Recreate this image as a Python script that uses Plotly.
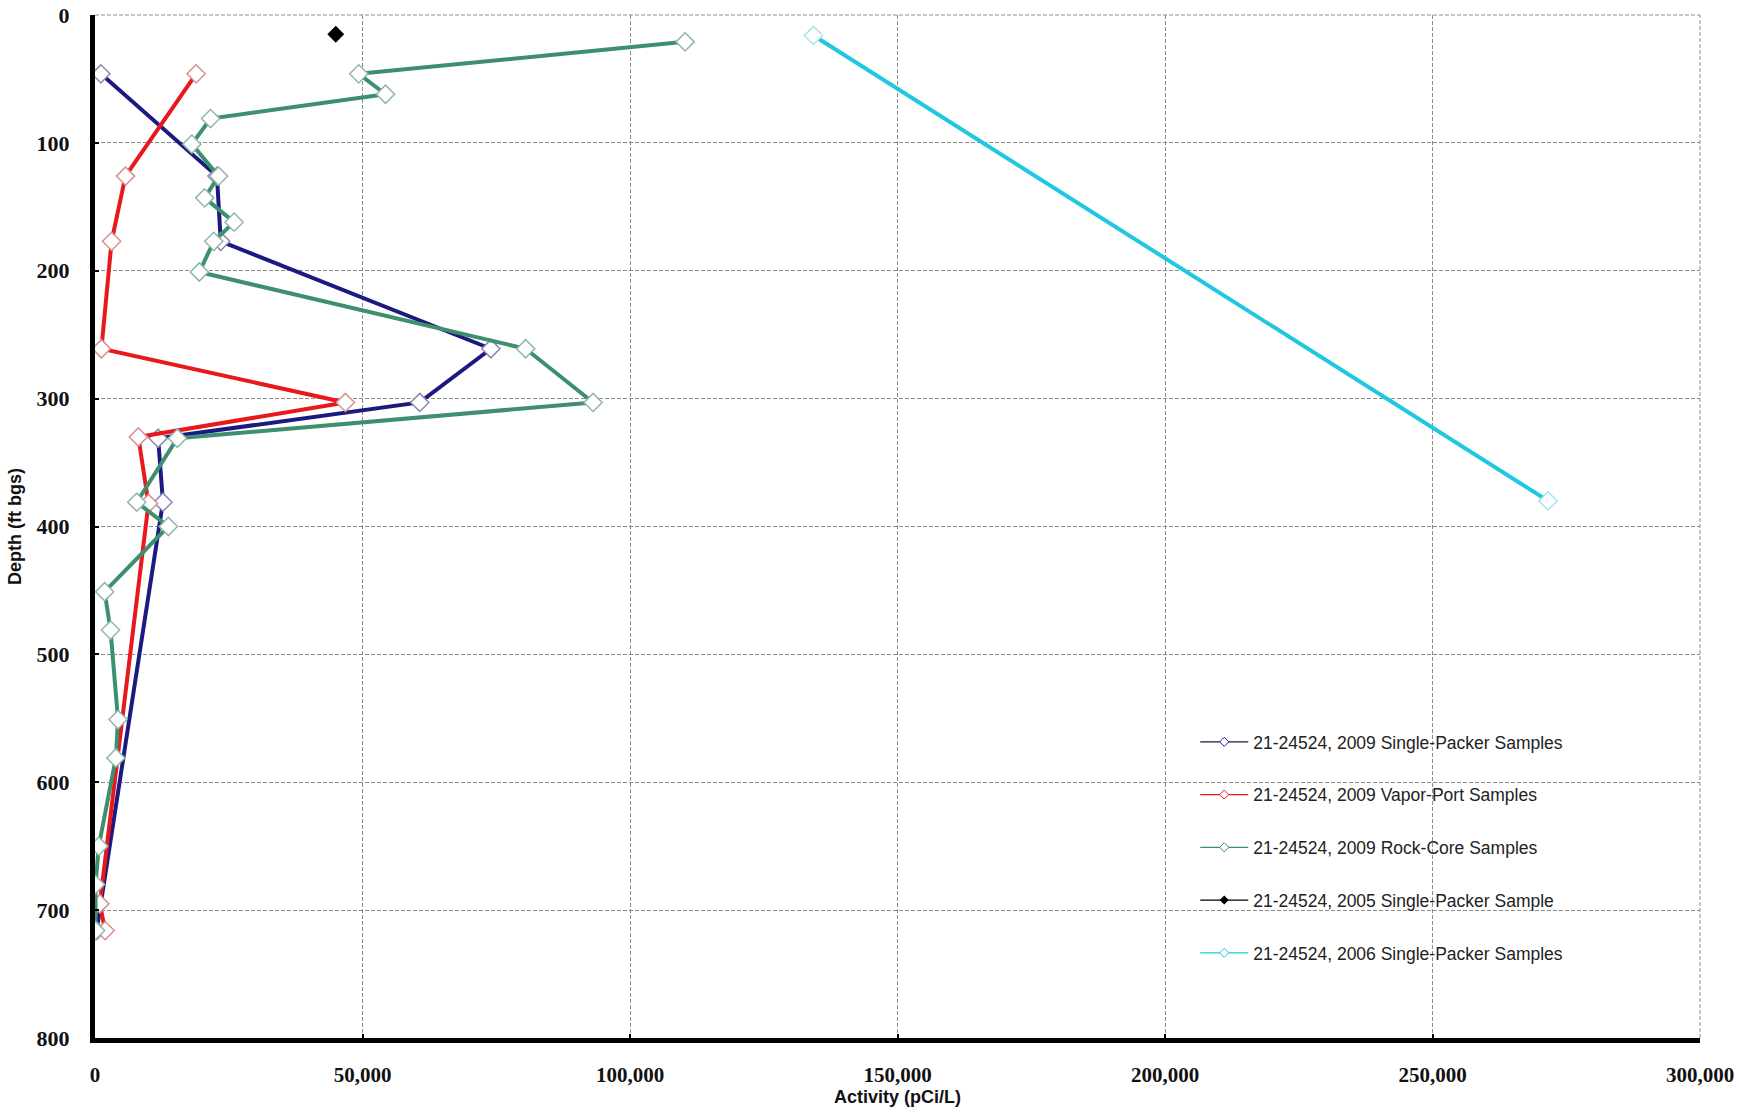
import plotly.graph_objects as go

# ---------------- data ----------------
sp2009_depth = [46, 126, 177, 261, 303, 331, 381, 716]
sp2009_act = [1100, 22800, 23500, 74000, 60700, 11800, 12700, 300]

vp2009_depth = [46, 126, 177, 261, 303, 330, 382, 695, 716]
vp2009_act = [18900, 5700, 3100, 1200, 46800, 8100, 10000, 900, 1900]

rc2009_depth = [21, 46, 62, 81, 101, 126, 143, 162, 177, 201, 261, 303, 331,
                381, 400, 451, 481, 551, 581, 650, 680, 716]
rc2009_act = [110300, 49300, 54300, 21600, 18100, 23100, 20500, 26000, 22200,
              19500, 80500, 93100, 15400, 7800, 13700, 1800, 2900, 4300, 3900,
              700, 100, 100]

sp2005_depth = [15]
sp2005_act = [45000]

sp2006_depth = [16, 380]
sp2006_act = [134300, 271600]

series_names = [
    "21-24524, 2009 Single-Packer Samples",
    "21-24524, 2009 Vapor-Port Samples",
    "21-24524, 2009 Rock-Core Samples",
    "21-24524, 2005 Single-Packer Sample",
    "21-24524, 2006 Single-Packer Samples",
]

x_ticks = [0, 50000, 100000, 150000, 200000, 250000, 300000]
y_ticks = [0, 100, 200, 300, 400, 500, 600, 700, 800]

# ---------------- styles ----------------
colors = ["#1c1a80", "#e8181c", "#3d8f6e", "#000000", "#1ec8e0"]
edges = ["#8a88b0", "#d89090", "#90b8a8", "#000000", "#a8e4ee"]

fig = go.Figure()

def open_diamond(edge, size=14):
    return dict(symbol="diamond", size=size, color="white",
                line=dict(color=edge, width=1.5))

data = [
    (sp2009_act, sp2009_depth),
    (vp2009_act, vp2009_depth),
    (rc2009_act, rc2009_depth),
    (sp2005_act, sp2005_depth),
    (sp2006_act, sp2006_depth),
]

for i, (xs, ys) in enumerate(data):
    if i == 3:
        mk = dict(symbol="diamond", size=13, color="black")
        ln = dict(color="black", width=1.5)
    else:
        mk = open_diamond(edges[i])
        ln = dict(color=colors[i], width=4)
    fig.add_trace(go.Scatter(x=xs, y=ys, mode="lines+markers", name=series_names[i],
                             line=ln, marker=mk, showlegend=False))

# legend entries (thin line, small marker, as in the original legend)
for i in range(5):
    if i == 3:
        mk = dict(symbol="diamond", size=7, color="black")
    else:
        mk = dict(symbol="diamond", size=7, color="white",
                  line=dict(color=colors[i], width=1))
    fig.add_trace(go.Scatter(x=[None], y=[None], mode="lines+markers",
                             name=series_names[i],
                             line=dict(color=colors[i] if i != 0 else "#1a1a3a", width=1.3),
                             marker=mk, legendgroup=f"g{i}", showlegend=True))

x_tick_font = dict(family="Liberation Sans Narrow, Liberation Serif", size=21,
                   color="#111", weight="bold")
y_tick_font = dict(family="Liberation Sans Narrow, Liberation Serif", size=22,
                   color="#111", weight="bold")
title_font = dict(family="Liberation Sans Narrow, Liberation Sans", size=18,
                  color="#111", weight="bold")

fig.update_layout(
    width=1740, height=1113,
    paper_bgcolor="white", plot_bgcolor="white",
    margin=dict(l=95, r=40, t=15, b=75, autoexpand=False),
    showlegend=True,
    legend=dict(
        x=0.6855, y=0.307, xanchor="left", yanchor="top",
        bgcolor="rgba(0,0,0,0)", borderwidth=0,
        font=dict(family="Liberation Sans", size=17.5, color="#222"),
        tracegroupgap=27, itemwidth=48,
    ),
    xaxis=dict(
        range=[0, 300000], tickvals=x_ticks, tickformat=",", automargin=False,
        showgrid=True, gridcolor="#8c8c8c", gridwidth=1, griddash="4px,2px",
        showline=True, linecolor="black", linewidth=5,
        zeroline=False, ticks="inside", ticklen=4, tickwidth=2, tickcolor="black",
        tickfont=x_tick_font, ticklabelstandoff=14, ticklabeloverflow="allow",
        title=dict(text="Activity (pCi/L)", standoff=4, font=title_font),
    ),
    yaxis=dict(
        range=[800, 0], tickvals=y_ticks, automargin=False,
        showgrid=True, gridcolor="#8c8c8c", gridwidth=1, griddash="4px,2px",
        showline=True, linecolor="black", linewidth=5,
        zeroline=False, ticks="inside", ticklen=4, tickwidth=2, tickcolor="black",
        tickfont=y_tick_font, ticklabelstandoff=16, ticklabeloverflow="allow",
        title=dict(text="Depth (ft bgs)", standoff=12, font=title_font),
    ),
    shapes=[
        # white panel behind the legend, hiding the grid there
        dict(type="rect", xref="paper", yref="paper", x0=0.646, x1=0.957,
             y0=0.060, y1=0.315, fillcolor="white", line=dict(width=0),
             layer="between"),
        # dashed frame on top and right edges
        dict(type="line", xref="paper", yref="paper", x0=0, x1=1, y0=1, y1=1,
             line=dict(color="#8c8c8c", width=1, dash="4px,2px"), layer="between"),
        dict(type="line", xref="paper", yref="paper", x0=1, x1=1, y0=0, y1=1,
             line=dict(color="#8c8c8c", width=1, dash="4px,2px"), layer="between"),
    ],
)

fig.write_html("out.html",
               config={"displayModeBar": False},
               post_script="document.body.style.margin='0';document.body.style.overflow='hidden';")
